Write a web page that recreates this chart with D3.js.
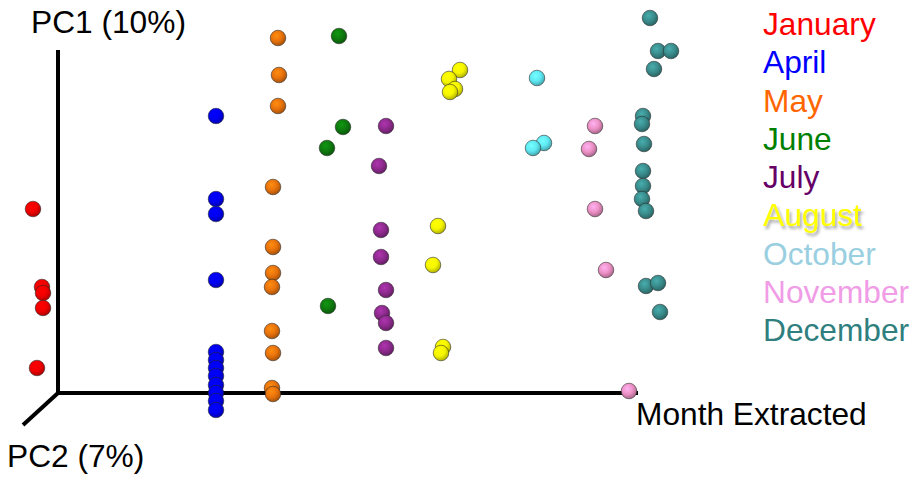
<!DOCTYPE html>
<html>
<head>
<meta charset="utf-8">
<script src="https://cdn.jsdelivr.net/npm/d3@7"></script>
<style>
  body { margin: 0; background: #fff; }
  text { font-family: "Liberation Sans", Arial, sans-serif; }
</style>
</head>
<body>
<div id="graph"></div>
<script>
// months shown in the legend
const months = ["January", "April", "May", "June", "July", "August", "October", "November", "December"];
const labelColors = ["#ff0000", "#0000ff", "#ff6600", "#008000", "#660066", "#ffff00", "#99cfe0", "#f09ce6", "#2f7f7f"];
const dotColors = ["#f00000", "#0000f0", "#e8720c", "#0e7a0e", "#8e2a8e", "#f5f500", "#5ee8f2", "#ec90c4", "#3a8c8c"];

// [month extracted axis, PC1], per month
const january = [[-25, 184], [-16, 106], [-15, 100], [-15, 85], [-21, 25]];
const april = [[158, 277], [158, 194], [158, 179], [158, 113], [158, 41], [158, 33], [158, 25], [158, 17],
  [158, 8], [158, 0], [158, -8], [158, -17]];
const may = [[220, 355], [221, 318], [220, 287], [215, 206], [215, 146], [215, 120], [214, 106], [214, 62],
  [215, 40], [214, 5], [215, -1]];
const june = [[281, 357], [285, 266], [269, 245], [270, 87]];
const july = [[328, 267], [321, 227], [323, 163], [323, 136], [328, 103], [324, 80], [328, 70], [328, 45]];
const august = [[402, 323], [391, 314], [397, 304], [392, 301], [380, 167], [375, 128], [385, 46], [383, 40]];
const october = [[479, 315], [486, 250], [475, 245]];
const november = [[537, 267], [531, 244], [537, 184], [548, 123], [571, 2]];
const december = [[592, 375], [600, 342], [613, 342], [596, 324], [585, 277], [584, 269], [586, 249], [585, 222],
  [585, 207], [584, 194], [588, 182], [588, 107], [600, 110], [602, 81]];

const series = [january, april, may, june, july, august, october, november, december];

let svg = d3.select("#graph").append("svg")
  .attr("width", 916)
  .attr("height", 479);

let xScale = d3.scaleLinear().domain([0, 580]).range([58, 638]);
let yScale = d3.scaleLinear().domain([0, 343]).range([393, 50]);

let defs = svg.append("defs");

// sphere shading per month
dotColors.forEach(function (c, i) {
  let g = defs.append("radialGradient")
    .attr("id", "ball" + i)
    .attr("cx", "40%").attr("cy", "35%").attr("r", "65%");
  g.append("stop").attr("offset", "0%").attr("stop-color", d3.color(c).brighter(0.6));
  g.append("stop").attr("offset", "55%").attr("stop-color", c);
  g.append("stop").attr("offset", "100%").attr("stop-color", d3.color(c).darker(0.9));
});

let shadow = defs.append("filter").attr("id", "shadow")
  .attr("x", "-10%").attr("y", "-10%").attr("width", "130%").attr("height", "140%");
shadow.append("feDropShadow")
  .attr("dx", 2).attr("dy", 3).attr("stdDeviation", 1.5)
  .attr("flood-color", "#000").attr("flood-opacity", 0.35);

// axes of the 3d view
let axes = svg.append("g")
  .attr("stroke", "#000")
  .attr("stroke-width", 4);

axes.append("line")
  .attr("x1", xScale(0)).attr("y1", yScale(0))
  .attr("x2", xScale(0)).attr("y2", yScale(343));
axes.append("line")
  .attr("x1", xScale(0)).attr("y1", yScale(0))
  .attr("x2", xScale(580)).attr("y2", yScale(0));
axes.append("line")
  .attr("x1", xScale(0)).attr("y1", yScale(0))
  .attr("x2", xScale(-35)).attr("y2", yScale(-32));

svg.append("text").attr("x", 31).attr("y", 33)
  .attr("font-size", 31.7).text("PC1 (10%)");
svg.append("text").attr("x", 7).attr("y", 467)
  .attr("font-size", 31.7).text("PC2 (7%)");
svg.append("text").attr("x", 636).attr("y", 425)
  .attr("font-size", 31.7).text("Month Extracted");

// points
series.forEach(function (pts, i) {
  svg.append("g").selectAll("circle")
    .data(pts)
    .enter()
    .append("circle")
    .attr("cx", function (d) { return xScale(d[0]); })
    .attr("cy", function (d) { return yScale(d[1]); })
    .attr("r", 7.8)
    .attr("fill", "url(#ball" + i + ")")
    .attr("stroke", "rgba(40,40,40,0.55)")
    .attr("stroke-width", 1);
});

// legend
svg.append("g").selectAll("text")
  .data(months)
  .enter()
  .append("text")
  .attr("x", 763)
  .attr("y", function (d, i) { return 35 + i * 38.25; })
  .attr("font-size", 31.7)
  .attr("fill", function (d, i) { return labelColors[i]; })
  .attr("filter", function (d) { return d === "August" ? "url(#shadow)" : null; })
  .text(function (d) { return d; });
</script>
</body>
</html>
